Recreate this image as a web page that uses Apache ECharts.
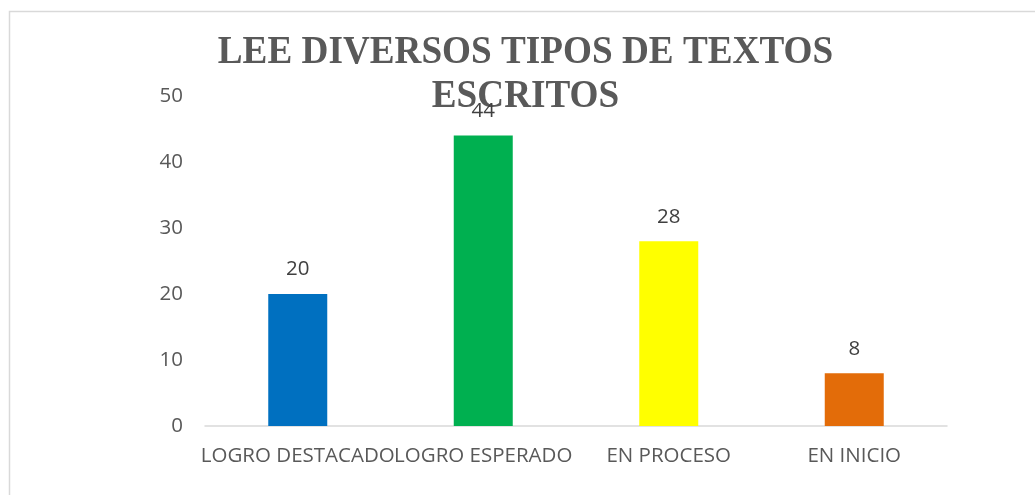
<!DOCTYPE html>
<html lang="es">
<head>
    <meta charset="UTF-8">
    <title>LEE DIVERSOS TIPOS DE TEXTOS ESCRITOS</title>
    <style>
        body {
            margin: 0px;
            padding: 0px;
            background: #ffffff;
        }

        #chart {
            width: 1035px;
            height: 495px;
        }
    </style>
</head>
<body>
    <div id="chart"></div>
    <script src="https://cdn.jsdelivr.net/npm/echarts@6/dist/echarts.min.js"></script>
    <script>
        var categories = ['LOGRO DESTACADO', 'LOGRO ESPERADO', 'EN PROCESO', 'EN INICIO'];
        var values = [20, 44, 28, 8];
        var barColors = ['#0070C0', '#00B050', '#FFFF00', '#E36C09'];
        var titleText = 'LEE DIVERSOS TIPOS DE TEXTOS\nESCRITOS';

        var myChart = echarts.init(document.getElementById('chart'));

        var option = {
            animation: false,
            graphic: [
                {
                    // marco del gráfico
                    type: 'rect',
                    z: 0,
                    shape: { x: 9.5, y: 11.5, width: 1100, height: 600 },
                    style: { fill: 'none', stroke: '#d9d9d9', lineWidth: 1.5 }
                },
                {
                    type: 'text',
                    z: 0,
                    x: 525.5,
                    y: 31,
                    scaleX: 0.93,
                    style: {
                        text: titleText,
                        font: 'bold 40px "Liberation Serif"',
                        fill: '#595959',
                        align: 'center',
                        verticalAlign: 'top',
                        lineHeight: 44
                    }
                }
            ],
            grid: {
                left: 205,
                right: 88,
                top: 96,
                bottom: 69
            },
            xAxis: {
                type: 'category',
                data: categories,
                axisLine: { lineStyle: { color: '#d9d9d9', width: 1.5 } },
                axisTick: { show: false },
                axisLabel: {
                    interval: 0,
                    margin: 20,
                    color: '#595959',
                    fontFamily: 'Open Sans',
                    fontSize: 20.5
                }
            },
            yAxis: {
                type: 'value',
                min: 0,
                max: 50,
                interval: 10,
                axisLine: { show: false },
                axisTick: { show: false },
                splitLine: { show: false },
                axisLabel: {
                    margin: 22,
                    color: '#595959',
                    fontFamily: 'Open Sans',
                    fontSize: 20.5
                }
            },
            series: [{
                type: 'bar',
                z: 5,
                barWidth: 59,
                data: values.map(function (v, i) {
                    return { value: v, itemStyle: { color: barColors[i] } };
                }),
                label: {
                    show: true,
                    position: 'top',
                    distance: 14,
                    color: '#404040',
                    fontFamily: 'Open Sans',
                    fontSize: 20.5
                }
            }]
        };

        myChart.setOption(option);
    </script>
</body>
</html>
